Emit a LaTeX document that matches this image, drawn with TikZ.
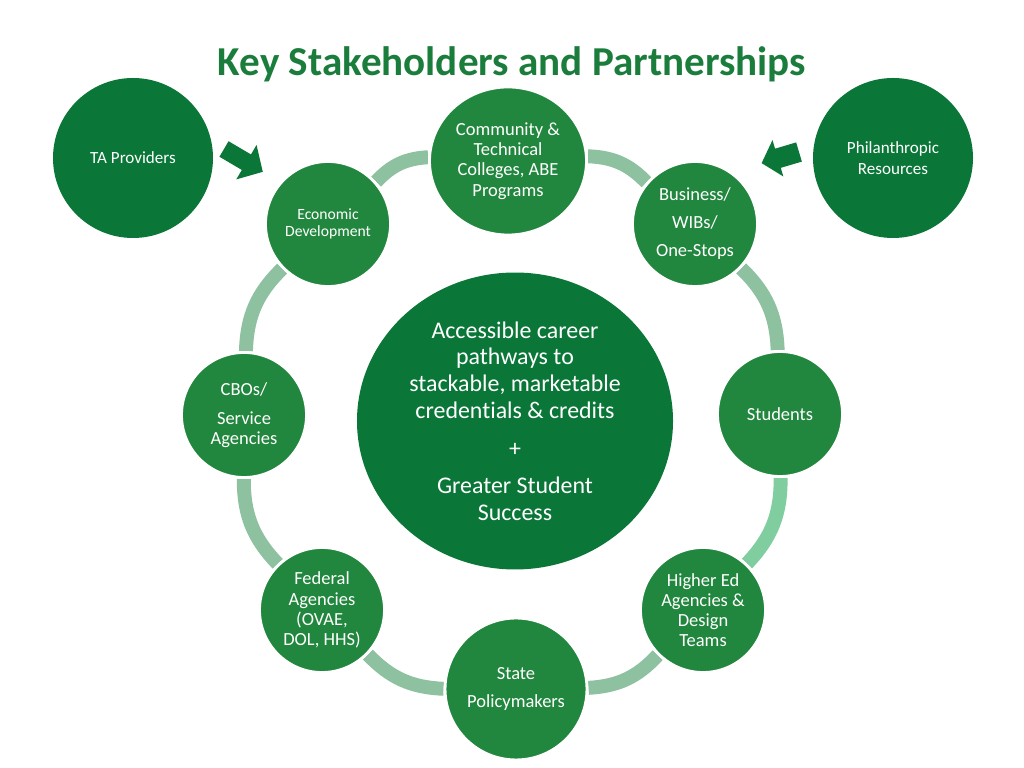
\documentclass[tikz,border=0pt]{standalone}
\usepackage{fontspec}
\setmainfont{Carlito}[Ligatures=NoCommon]
\usetikzlibrary{shapes.geometric, backgrounds}

\definecolor{ringgreen}{RGB}{34,135,62}
\definecolor{deepgreen}{RGB}{10,119,56}
\definecolor{titlegreen}{RGB}{27,125,60}
\definecolor{linkgreen}{RGB}{141,193,160}
\definecolor{mintgreen}{RGB}{128,206,160}

\tikzset{
  party/.style={circle, fill=ringgreen, draw=white, line width=2pt, text=white, align=center, inner sep=0pt, minimum size=87.9pt, font=\fontsize{13}{14.2}\selectfont},
  outer/.style={circle, fill=deepgreen, text=white, align=center, inner sep=0pt, minimum size=112.5pt, font=\fontsize{12}{14.6}\selectfont},
  link/.style={line width=9.8pt, draw=linkgreen, bend left=22},
  blockarrow/.style={fill=deepgreen},
}

\begin{document}
\begin{tikzpicture}[x=0.703125pt, y=0.703125pt]
  \useasboundingbox (0,0) rectangle (1024,768);

  \node[anchor=base, text=titlegreen, font=\fontsize{28.9}{34}\selectfont\bfseries] (title) at (512, 692) {Key Stakeholders and Partnerships};

  % centre
  \node[ellipse, fill=deepgreen, text=white, align=center, inner sep=0pt, minimum width=222.2pt, minimum height=208.8pt, font=\fontsize{16.8}{18.8}\selectfont] (hub) at (515, 347)
    {Accessible career\\pathways to\\stackable, marketable\\credentials \& credits\\[7.9pt]+\\[7.2pt]Greater Student\\Success};

  % ring
  \node[party, ellipse, minimum width=110.4pt, minimum height=104.1pt] (comm) at (508, 607) {Community \&\\Technical\\Colleges, ABE\\Programs};
  \node[party] (bus) at (695, 544) {Business/\\[5.5pt]WIBs/\\[5.5pt]One-Stops};
  \node[party] (stud) at (780, 354) {Students};
  \node[party] (higher) at (703, 158) {Higher Ed\\Agencies \&\\Design\\Teams};
  \node[party, minimum size=99.8pt] (state) at (516, 79) {State\\[5.5pt]Policymakers};
  \node[party] (fed) at (322, 158) {Federal\\Agencies\\(OVAE,\\DOL, HHS)};
  \node[party] (cbo) at (244, 353) {CBOs/\\[6.2pt]Service\\Agencies};
  \node[party, font=\fontsize{11}{12}\selectfont] (econ) at (328, 544) {Economic\\Development};

  % outside
  \node[outer] (ta) at (133, 610) {TA Providers};
  \node[outer] (phil) at (893, 610) {Philanthropic\\Resources};

  \begin{scope}[on background layer]
    \fill[white] (0,0) rectangle (1024,768);
    \draw[link] (econ) to (comm);
    \draw[link] (comm) to (bus);
    \draw[link] (bus) to (stud);
    \draw[link, draw=mintgreen] (stud) to (higher);
    \draw[link] (higher) to (state);
    \draw[link] (state) to (fed);
    \draw[link] (fed) to (cbo);
    \draw[link] (cbo) to (econ);
  \end{scope}

  % block arrows
  \fill[blockarrow, shift={(224,619)}, rotate=-30.5]
    (0,-9) -- (26,-9) -- (26,-20) -- (45,0) -- (26,20) -- (26,9) -- (0,9) -- cycle;
  \fill[blockarrow, shift={(799,616)}, rotate=196.6]
    (0,-10) -- (22,-10) -- (22,-19) -- (39,0) -- (22,19) -- (22,10) -- (0,10) -- cycle;
\end{tikzpicture}
\end{document}
